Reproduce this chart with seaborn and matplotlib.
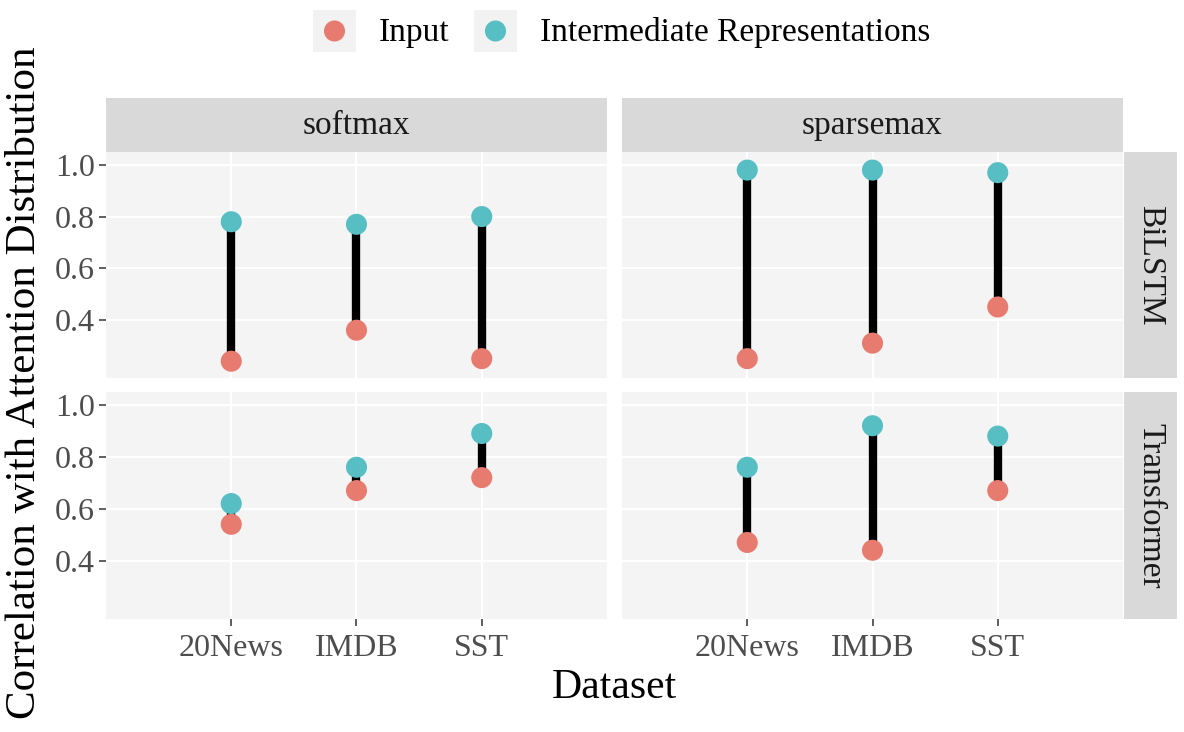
import numpy as np
import pandas as pd
import matplotlib
matplotlib.use("Agg")
import matplotlib.pyplot as plt
from matplotlib.patches import Rectangle
import seaborn as sns

# ---------------- data ----------------
datasets = ["20News", "IMDB", "SST"]
attentions = ["softmax", "sparsemax"]
models = ["BiLSTM", "Transformer"]
series = ["Input", "Intermediate Representations"]

bilstm_softmax_input = [0.24, 0.36, 0.25]
bilstm_softmax_inter = [0.78, 0.77, 0.80]
bilstm_sparsemax_input = [0.25, 0.31, 0.45]
bilstm_sparsemax_inter = [0.98, 0.98, 0.97]
transformer_softmax_input = [0.54, 0.67, 0.72]
transformer_softmax_inter = [0.62, 0.76, 0.89]
transformer_sparsemax_input = [0.47, 0.44, 0.67]
transformer_sparsemax_inter = [0.76, 0.92, 0.88]

y_ticks = [0.4, 0.6, 0.8, 1.0]
y_tick_labels = ["0.4", "0.6", "0.8", "1.0"]

values = {
    ("BiLSTM", "softmax"): (bilstm_softmax_input, bilstm_softmax_inter),
    ("BiLSTM", "sparsemax"): (bilstm_sparsemax_input, bilstm_sparsemax_inter),
    ("Transformer", "softmax"): (transformer_softmax_input, transformer_softmax_inter),
    ("Transformer", "sparsemax"): (transformer_sparsemax_input, transformer_sparsemax_inter),
}

rows = []
for (m, a), (inp, inter) in values.items():
    for d, vi, vr in zip(datasets, inp, inter):
        rows.append(dict(Model=m, Attention=a, Dataset=d, Type=series[0], value=vi))
        rows.append(dict(Model=m, Attention=a, Dataset=d, Type=series[1], value=vr))
df = pd.DataFrame(rows)

# ---------------- style ----------------
sns.set_theme(style="white")
plt.rcParams["font.family"] = ["Liberation Serif", "DejaVu Serif"]

palette = {series[0]: "#E87B70", series[1]: "#57BEC3"}
panel_bg = "#F4F4F4"
strip_bg = "#D9D9D9"

W, H = 1184, 732
fig = plt.figure(figsize=(W / 100, H / 100), dpi=100)
fig.patch.set_facecolor("white")


def px_axes(x0, y0, x1, y1, **kw):
    return fig.add_axes([x0 / W, 1 - y1 / H, (x1 - x0) / W, (y1 - y0) / H], **kw)


col_x = [(106, 607), (622, 1123)]
row_y = [(152, 378), (392, 619)]

for ri, m in enumerate(models):
    for ci, a in enumerate(attentions):
        ax = px_axes(col_x[ci][0], row_y[ri][0], col_x[ci][1], row_y[ri][1])
        ax.set_facecolor(panel_bg)
        for s in ax.spines.values():
            s.set_visible(False)
        sub = df[(df.Model == m) & (df.Attention == a)]
        codes = np.arange(len(datasets))
        inp, inter = values[(m, a)]
        ax.vlines(codes, inp, inter, color="black", lw=6.0, zorder=2)
        sns.scatterplot(data=sub, x="Dataset", y="value", hue="Type",
                        hue_order=series, palette=palette, s=230,
                        edgecolor="none", linewidth=0, ax=ax, legend=False,
                        zorder=3)
        ax.set_xlim(-1, 3)
        ax.set_ylim(0.175, 1.05)
        ax.set_xticks(codes)
        ax.set_yticks(y_ticks)
        ax.grid(True, color="white", lw=1.5, zorder=0)
        ax.set_axisbelow(True)
        ax.set_xlabel("")
        ax.set_ylabel("")
        ax.tick_params(axis="both", length=5, width=1.1, color="#333333",
                       labelsize=23, labelcolor="#4D4D4D", pad=3)
        if ri == len(models) - 1:
            ax.set_xticklabels(datasets)
            ax.tick_params(axis="x", bottom=True, labelbottom=True, pad=6)
        else:
            ax.tick_params(axis="x", bottom=False, labelbottom=False)
        if ci == 0:
            ax.set_yticklabels(y_tick_labels)
            ax.tick_params(axis="y", left=True, labelleft=True)
        else:
            ax.tick_params(axis="y", left=False, labelleft=False)

# top strips
for ci, a in enumerate(attentions):
    sax = px_axes(col_x[ci][0], 98, col_x[ci][1], 152)
    sax.set_facecolor(strip_bg)
    sax.set_xticks([]); sax.set_yticks([])
    for s in sax.spines.values():
        s.set_visible(False)
    sax.text(0.5, 0.48, a, ha="center", va="center", fontsize=24,
             color="#1A1A1A", transform=sax.transAxes)

# right strips
for ri, m in enumerate(models):
    sax = px_axes(1124, row_y[ri][0], 1177, row_y[ri][1])
    sax.set_facecolor(strip_bg)
    sax.set_xticks([]); sax.set_yticks([])
    for s in sax.spines.values():
        s.set_visible(False)
    sax.text(0.5, 0.5, m, ha="center", va="center", fontsize=24,
             color="#1A1A1A", rotation=-90, transform=sax.transAxes)

# axis titles
fig.text(614 / W, 1 - 688 / H, "Dataset", ha="center", va="center",
         fontsize=30, color="black")
fig.text(25 / W, 1 - 383 / H, "Correlation with Attention Distribution",
         ha="center", va="center", rotation=90, fontsize=31, color="black")

# legend
lax = px_axes(0, 0, W, 62)
lax.set_xlim(0, W)
lax.set_ylim(62, 0)
lax.axis("off")
key_x = [313, 474]
for kx, name in zip(key_x, series):
    lax.add_patch(Rectangle((kx, 10), 43, 42, facecolor="#F2F2F2",
                            edgecolor="none"))
    lax.scatter([kx + 21.5], [31], s=230, color=palette[name],
                edgecolor="none", zorder=3)
    lax.text(kx + 66, 33, name, ha="left", va="center", fontsize=24,
             color="black")

fig.savefig("out.png", dpi=100, facecolor="white")
